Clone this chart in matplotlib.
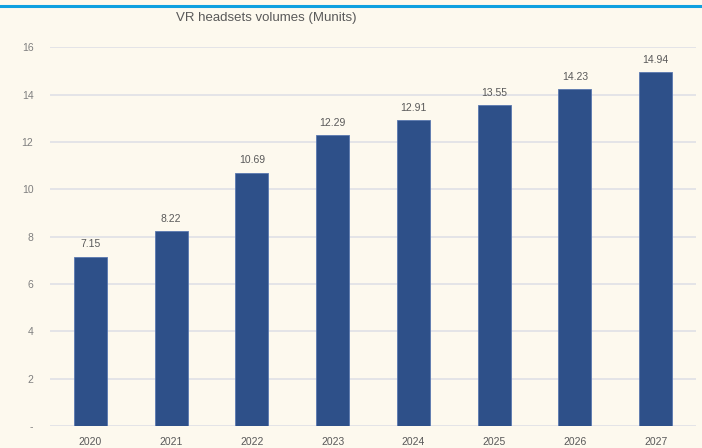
import matplotlib.pyplot as plt
from matplotlib.lines import Line2D

# ── Data ─────────────────────────────────────────────────────────────────────
years = ["2020", "2021", "2022", "2023", "2024", "2025", "2026", "2027"]
volumes = [7.15, 8.22, 10.69, 12.29, 12.91, 13.55, 14.23, 14.94]
y_ticks = [0, 2, 4, 6, 8, 10, 12, 14, 16]
y_tick_labels = ["-", "2", "4", "6", "8", "10", "12", "14", "16"]

BG = "#fdf9ee"
BAR = "#2e5089"
GRID = "#e0e0e6"
TXT = "#7f7f7f"

plt.rcParams["font.family"] = ["Liberation Sans Narrow", "Liberation Sans", "DejaVu Sans"]

fig = plt.figure(figsize=(7.02, 4.48), dpi=100, facecolor=BG)
W, H = 702, 448
ax = fig.add_axes([50 / W, (H - 426) / H, (696 - 50) / W, (426 - 47.3) / H])
ax.set_facecolor(BG)

x = range(len(years))
ax.bar(x, volumes, width=0.41, color=BAR, edgecolor="#5a78b0",
       linewidth=0.6, zorder=3)

for xi, v in zip(x, volumes):
    ax.text(xi, v + 0.32, f"{v:.2f}", ha="center", va="bottom",
            fontsize=7.5, color="#595959", zorder=4)

ax.set_xlim(-0.5, len(years) - 0.5)
ax.set_ylim(0, 16)
ax.set_yticks(y_ticks)
ax.set_yticklabels(y_tick_labels, color=TXT, fontsize=7.5)
ax.set_xticks(list(x))
ax.set_xticklabels(years, color="#595959", fontsize=7.5)
ax.tick_params(axis="both", length=0)
ax.tick_params(axis="y", pad=12)
ax.tick_params(axis="x", pad=8)
ax.grid(axis="y", color=GRID, linewidth=1.2, zorder=0)
for s in ax.spines.values():
    s.set_visible(False)

fig.text(266 / W, 1 - 18 / H, "VR headsets volumes (Munits)", ha="center",
         va="center", fontsize=9.5, color="#595959")

# top accent line
fig.add_artist(Line2D([0, 1], [1 - 6 / H, 1 - 6 / H], color="#0fa0e0",
                      linewidth=2.2, transform=fig.transFigure))

fig.savefig("out.png", dpi=100, facecolor=BG)
